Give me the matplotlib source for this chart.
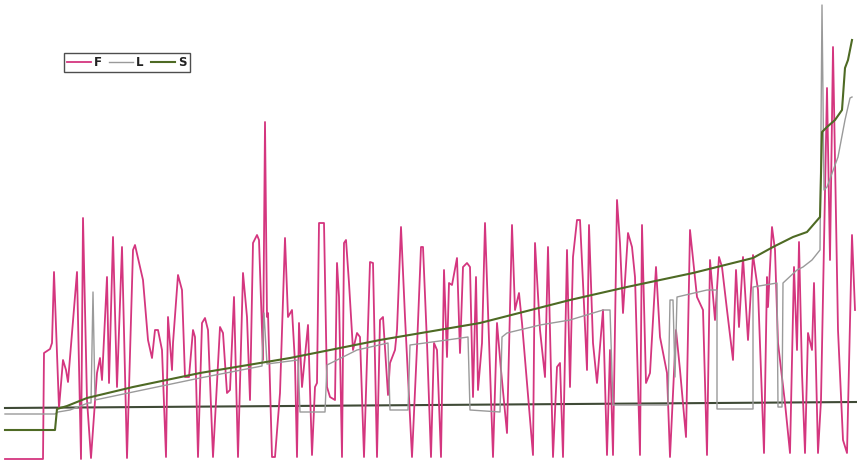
import matplotlib
matplotlib.use("Agg")
import matplotlib.pyplot as plt

# ---- data ----
f_x = [5, 43, 44, 50, 52, 54, 59, 63, 66, 68, 77, 81, 83, 87, 91, 97, 100, 102, 107, 109,
       113, 117, 122, 127, 133, 135, 140, 143, 148, 152, 155, 158, 162, 166, 168, 172, 173, 178, 182, 185,
       189, 193, 195, 198, 202, 205, 208, 213, 220, 223, 227, 230, 234, 238, 243, 247, 250, 253, 257, 259,
       263, 265, 267, 268, 272, 275, 280, 285, 288, 292, 295, 297, 299, 302, 308, 312, 315, 317, 319, 324,
       327, 330, 335, 337, 339, 342, 344, 346, 349, 353, 357, 360, 364, 370, 373, 377, 380, 383, 388, 390,
       395, 397, 401, 405, 412, 417, 421, 423, 427, 431, 434, 437, 441, 444, 447, 449, 452, 457, 460, 463,
       467, 470, 473, 476, 478, 482, 485, 489, 493, 497, 501, 507, 512, 515, 519, 522, 527, 533, 535, 540,
       545, 548, 553, 557, 560, 563, 567, 570, 573, 577, 580, 583, 587, 589, 593, 597, 603, 607, 610, 613,
       617, 620, 623, 628, 632, 635, 640, 642, 646, 650, 656, 660, 667, 670, 676, 680, 686, 690, 697, 703,
       707, 710, 715, 719, 722, 727, 733, 736, 739, 743, 748, 753, 758, 764, 767, 768, 772, 775, 778, 785,
       790, 794, 797, 799, 802, 805, 808, 812, 814, 818, 821, 827, 830, 833, 838, 843, 847, 852, 855]
f_y = [-54, -54, 52, 56, 62, 133, -3, 45, 35, 23, 133, -54, 187, 5, -53, 32, 47, 25, 128, 22,
       168, 18, 158, -53, 155, 160, 138, 125, 65, 47, 75, 75, 55, -52, 88, 35, 62, 130, 115, 28,
       28, 75, 68, -52, 82, 87, 75, -52, 78, 72, 12, 15, 108, -52, 132, 88, 5, 162, 170, 165,
       45, 283, 88, 92, -52, -52, 12, 167, 88, 95, 42, -52, 82, 18, 80, -50, 18, 22, 182, 182,
       18, 8, 5, 142, 108, -52, 162, 165, 122, 55, 72, 68, -52, 143, 142, -52, 85, 88, 10, 42,
       55, 75, 178, 88, -52, 58, 158, 158, 62, -52, 62, 55, -52, 135, 48, 122, 120, 147, 52, 138,
       142, 138, 8, 128, 15, 62, 182, 65, -52, 82, 35, -28, 180, 95, 112, 82, 22, -50, 162, 75,
       28, 158, -52, 38, 42, -52, 155, 18, 148, 185, 185, 122, 35, 180, 62, 22, 95, -50, 55, -50,
       205, 162, 92, 172, 158, 128, -50, 180, 22, 32, 138, 68, 32, -52, 75, 35, -32, 175, 108, 95,
       -50, 145, 85, 148, 138, 95, 45, 135, 78, 148, 65, 150, 115, -48, 128, 98, 178, 155, 62, 2,
       -48, 138, 55, 163, 32, -48, 72, 55, 122, -48, 5, 317, 145, 358, 75, -35, -48, 170, 95]

l_x = [5, 55, 58, 70, 88, 91, 93, 95, 133, 200, 262, 264, 267, 298, 300, 325, 327, 357, 388, 390,
       408, 410, 447, 468, 470, 500, 502, 507, 540, 570, 603, 610, 613, 668, 670, 673, 675, 677, 707, 717,
       717, 753, 753, 777, 778, 782, 783, 797, 803, 812, 820, 822, 824, 827, 838, 845, 850, 852]
l_y = [-9, -9, -7, -5, 2, 2, 113, 5, 13, 27, 39, 92, 41, 45, -7, -7, 40, 55, 62, -5,
       -5, 60, 65, 68, -5, -7, 68, 72, 80, 85, 95, 95, 0, 0, 105, 105, 28, 108, 115, 115,
       -4, -4, 118, 122, -2, -2, 122, 135, 138, 145, 155, 400, 215, 218, 248, 285, 307, 308]

s_x = [5, 55, 57, 67, 87, 133, 200, 290, 380, 480, 570, 627, 693, 753, 773, 793, 807, 820, 822, 827,
       835, 842, 845, 848, 852]
s_y = [-25, -25, -4, -1, 7, 18, 32, 47, 65, 82, 105, 118, 132, 147, 158, 168, 173, 188, 273, 278,
       285, 295, 337, 345, 365]

ref_x = [5, 857]
ref_y = [-3, 3]

labels = ["F", "L", "S"]

# ---- figure ----
fig = plt.figure(figsize=(8.57, 4.65), dpi=100)
ax = fig.add_axes([0, 0, 1, 1])
ax.set_xlim(0, 857)
ax.set_ylim(-60, 405)
ax.axis("off")

ax.plot(ref_x, ref_y, color="#3f4a36", lw=1.5, zorder=2)
lf, = ax.plot(f_x, f_y, color="#d4367f", lw=1.3, zorder=3, label=labels[0])
ll, = ax.plot(l_x, l_y, color="#9a9a9a", lw=1.0, zorder=4, label=labels[1])
ls, = ax.plot(s_x, s_y, color="#4e6a24", lw=1.5, zorder=5, label=labels[2])

leg = ax.legend(handles=[lf, ll, ls], ncol=3, loc="upper left",
                bbox_to_anchor=(64 / 857, 1 - 53 / 465), fontsize=8.5,
                frameon=True, fancybox=False, edgecolor="#222222",
                handlelength=2.0, handletextpad=0.3, columnspacing=0.6,
                borderpad=0.25, borderaxespad=0)
leg.get_frame().set_linewidth(1.0)
for t in leg.get_texts():
    t.set_color("#222222")
    t.set_fontweight("bold")

fig.savefig("out.png", dpi=100)
